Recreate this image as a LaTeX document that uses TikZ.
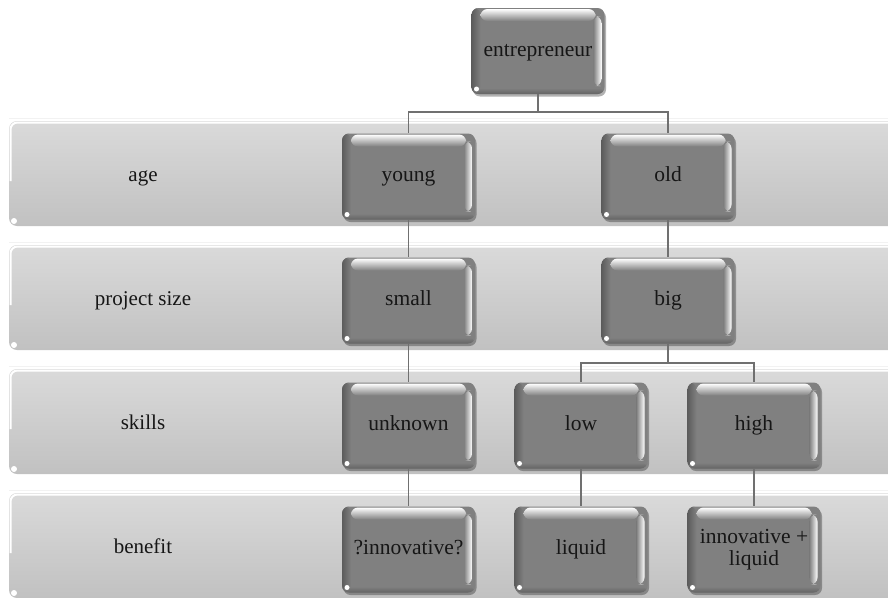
\documentclass[tikz,border=0pt]{standalone}
\usepackage{fontspec}
\setmainfont{Liberation Serif}
\usetikzlibrary{calc,shadows}
\definecolor{nodegray}{RGB}{128,128,128}
\definecolor{bandtop}{RGB}{218,218,218}
\definecolor{bandbot}{RGB}{193,193,193}
\definecolor{linegray}{RGB}{112,112,112}
\definecolor{txt}{RGB}{22,22,22}
\begin{document}
\begin{tikzpicture}[x=1pt,y=-1pt,
  box/.style={rectangle, rounded corners=7pt, minimum width=133pt, minimum height=86pt,
    fill=nodegray, inner sep=2pt, align=center, font=\fontsize{21.5}{22}\selectfont, text=txt,
    drop shadow={shadow xshift=1.5pt, shadow yshift=-2.5pt, opacity=0.3, fill=black},
    path picture={
      \coordinate (pnw) at (path picture bounding box.north west);
      \coordinate (pse) at (path picture bounding box.south east);
      \shade[left color=nodegray!72!black, right color=nodegray] (pnw) rectangle ($(pnw|-pse)+(9pt,0pt)$);
      \shade[top color=nodegray, bottom color=nodegray!78!black] ($(pnw|-pse)+(0pt,6pt)$) rectangle (pse);
      \shade[top color=white, bottom color=nodegray] ($(pnw)+(9pt,-1pt)$) rectangle ($(pnw-|pse)+(-9pt,-13pt)$);
      \shade[left color=nodegray, right color=white] ($(pnw-|pse)+(-11pt,-8pt)$) rectangle ($(pse)+(-3pt,8pt)$);
      \fill[white] ($(pnw|-pse)+(5pt,5pt)$) circle (2.5pt);
    }},
  oneline/.style={box, text height=14pt, text depth=4pt},
  conn/.style={draw=linegray, line width=1.8pt},
  bandlabel/.style={font=\fontsize{21}{22}\selectfont, text=txt, text height=14pt, text depth=4pt},
  bandshape/.style={top color=bandtop, bottom color=bandbot, rounded corners=8pt}
]
\useasboundingbox (0,0) rectangle (888,597);
\fill[white] (0,0) rectangle (888,597);
\begin{scope}
  \clip (0,0) rectangle (888,597);
  \foreach \t in {121,245,369,493} {
    \shade[bandshape] (9,\t) rectangle (910,\t+105);
    \draw[white, line width=2pt, rounded corners=7pt] (10.5,\t+60) -- (10.5,\t+1.5) -- (900,\t+1.5);
    \draw[white!90!gray, line width=1pt] (9,\t-3) -- (900,\t-3);
    \fill[white] (14,\t+100) circle (3pt);
  }
\end{scope}

\node[bandlabel] (lage) at (143,176) {age};
\node[bandlabel] (lproj) at (143,300) {project size};
\node[bandlabel] (lskills) at (143,424) {skills};
\node[bandlabel] (lbenefit) at (143,548) {benefit};

\node[oneline] (e) at (538,51) {entrepreneur};
\node[oneline] (y) at (408.5,176.5) {young};
\node[oneline] (o) at (668,176.5) {old};
\node[oneline] (s) at (408.5,300.5) {small};
\node[oneline] (b) at (668,300.5) {big};
\node[oneline] (u) at (408.5,425.5) {unknown};
\node[oneline] (l) at (581,425.5) {low};
\node[oneline] (h) at (754,425.5) {high};
\node[oneline] (i1) at (408.5,549.5) {?innovative?};
\node[oneline] (l2) at (581,549.5) {liquid};
\node[box] (i2) at (754,549.5) {innovative +\\liquid};

\draw[conn] (e.south) -- ++(0,18) -| (y.north);
\draw[conn] (e.south) -- ++(0,18) -| (o.north);
\draw[conn] (y.south) -- (s.north);
\draw[conn] (o.south) -- (b.north);
\draw[conn] (s.south) -- (u.north);
\draw[conn] (b.south) -- ++(0,19) -| (l.north);
\draw[conn] (b.south) -- ++(0,19) -| (h.north);
\draw[conn] (u.south) -- (i1.north);
\draw[conn] (l.south) -- (l2.north);
\draw[conn] (h.south) -- (i2.north);
\end{tikzpicture}
\end{document}
